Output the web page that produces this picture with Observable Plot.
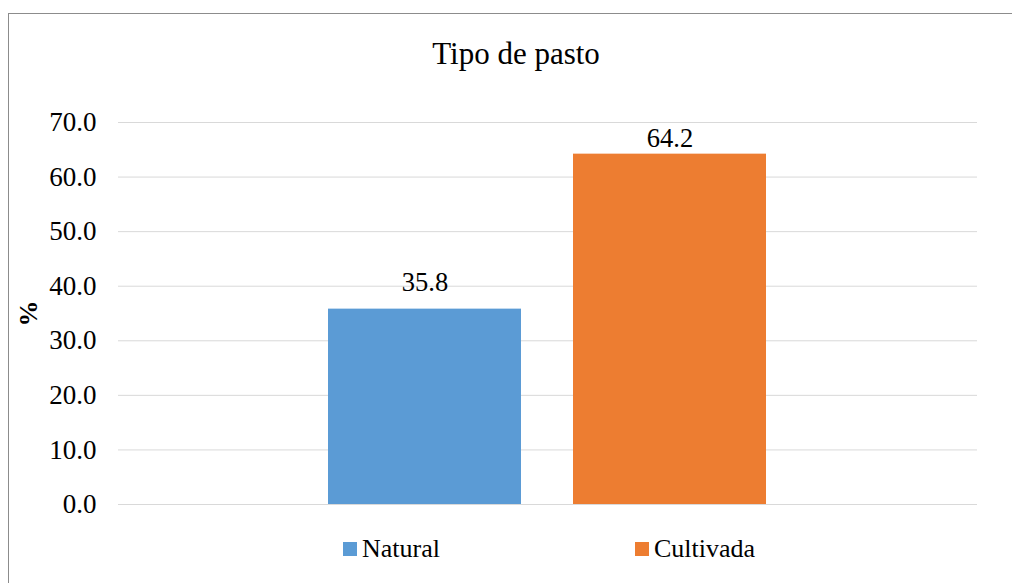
<!DOCTYPE html>
<html>
<head>
<meta charset="utf-8">
<script src="https://cdn.jsdelivr.net/npm/d3@7"></script>
<script src="https://cdn.jsdelivr.net/npm/@observablehq/plot@0.6"></script>
<style>
  html, body { margin: 0; padding: 0; background: #fff; }
  #wrap { position: relative; width: 1012px; height: 583px; overflow: hidden; font-family: "Liberation Serif", "Times New Roman", serif; color: #000; }
  #frame { position: absolute; left: 8px; top: 13px; width: 1100px; height: 700px; border-left: 1px solid #8c8c8c; border-top: 1px solid #8c8c8c; box-sizing: border-box; }
  #title { position: absolute; left: 0; width: 1032px; top: 36px; text-align: center; font-size: 31px; line-height: 36px; }
  #chart { position: absolute; left: 0; top: 90px; }
  #chart svg, #chart svg text { font-family: "Liberation Serif", "Times New Roman", serif !important; }
  #legend { position: absolute; left: 0; top: 537px; width: 1012px; height: 30px; font-size: 26px; }
  .item { position: absolute; top: 0; height: 30px; white-space: nowrap; }
  .sw { position: absolute; top: 5px; width: 14px; height: 14px; }
  .lab { position: absolute; left: 19px; top: -3px; line-height: 30px; }
</style>
</head>
<body>
<div id="wrap">
  <div id="frame"></div>
  <div id="title"></div>
  <div id="chart"></div>
  <div id="legend"></div>
</div>
<script>
const title = "Tipo de pasto";
const yLabel = "%";
const categories = ["Natural", "Cultivada"];
const values = [35.8, 64.2];
const colors = ["#5B9BD5", "#ED7D31"];
const yTicks = [0, 10, 20, 30, 40, 50, 60, 70];

const data = categories.map((c, i) => ({tipo: c, pct: values[i]}));

document.getElementById("title").textContent = title;

const font = "Liberation Serif";

const chart = Plot.plot({
  width: 1012,
  height: 440,
  marginLeft: 118,
  marginRight: 35,
  marginTop: 32,
  marginBottom: 26,
  style: "background: transparent; font-family: 'Liberation Serif', serif; font-size: 27px; color: #000;",
  x: {type: "band", domain: categories, paddingInner: 0.2122, paddingOuter: 0.859, axis: null},
  y: {domain: [0, 70], ticks: yTicks, tickFormat: d => d.toFixed(1), tickSize: 0, tickPadding: 22, label: null},
  color: {domain: categories, range: colors},
  marks: [
    Plot.ruleY(yTicks, {stroke: "#d9d9d9", strokeWidth: 1}),
    Plot.barY(data, {x: "tipo", y: "pct", fill: "tipo"}),
    Plot.text(data.filter(d => d.tipo === categories[0]), {x: "tipo", y: "pct", text: d => d.pct.toFixed(1), lineAnchor: "bottom", dy: -18, fill: "#000", fontSize: 26.5, fontFamily: font}),
    Plot.text(data.filter(d => d.tipo === categories[1]), {x: "tipo", y: "pct", text: d => d.pct.toFixed(1), lineAnchor: "bottom", dy: -7, fill: "#000", fontSize: 26.5, fontFamily: font}),
    Plot.text([yLabel], {frameAnchor: "left", text: d => d, dx: -90, rotate: -90, fontWeight: "bold", fontSize: 26, fontFamily: font, fill: "#000", textAnchor: "middle", lineAnchor: "middle"})
  ]
});
document.getElementById("chart").appendChild(chart);

const legend = document.getElementById("legend");
const legendX = [343, 635];
categories.forEach((c, i) => {
  const item = document.createElement("div");
  item.className = "item";
  item.style.left = legendX[i] + "px";
  const sw = document.createElement("div");
  sw.className = "sw";
  sw.style.background = colors[i];
  const lab = document.createElement("span");
  lab.className = "lab";
  lab.textContent = c;
  item.appendChild(sw);
  item.appendChild(lab);
  legend.appendChild(item);
});
</script>
</body>
</html>
